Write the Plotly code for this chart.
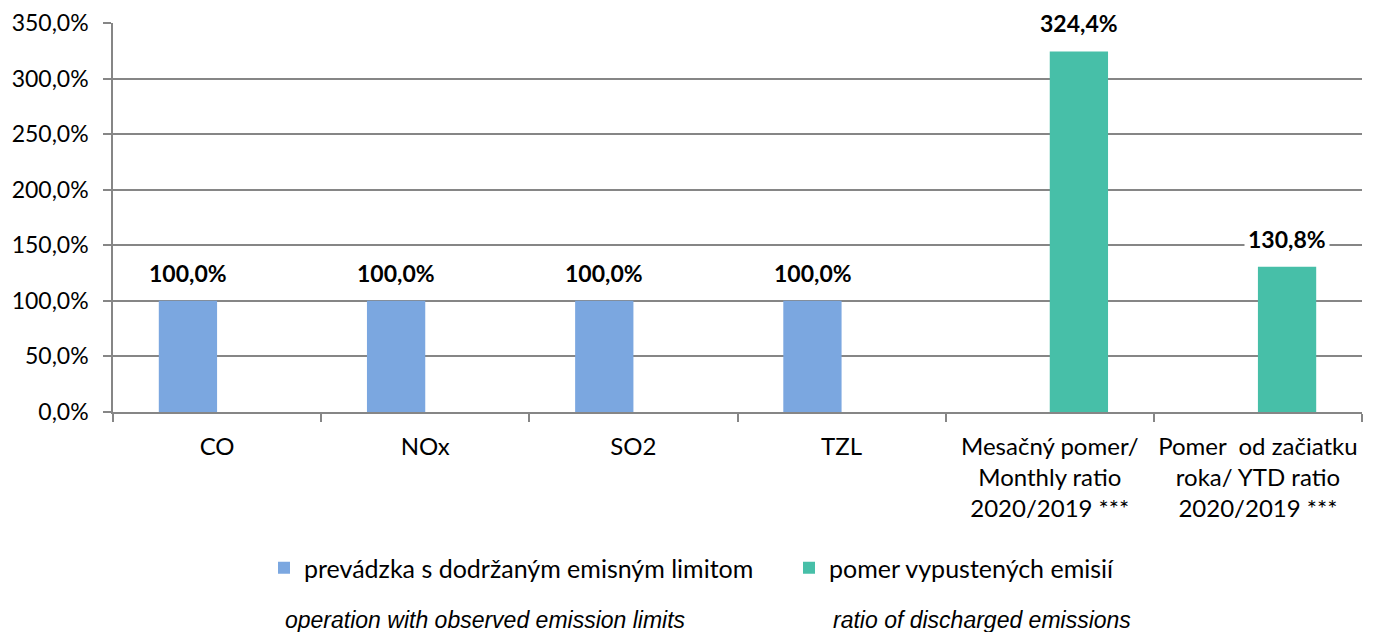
import plotly.graph_objects as go

categories = ["CO", "NOx", "SO2", "TZL",
              "Mesačný pomer/<br>Monthly ratio<br>2020/2019 ***",
              "Pomer\u00a0 od začiatku<br>roka/ YTD ratio<br>2020/2019 ***"]
limits_values = [100.0, 100.0, 100.0, 100.0, None, None]
ratio_values = [None, None, None, None, 324.4, 130.8]
series_names = ["prevádzka s dodržaným emisným limitom", "pomer vypustených emisií"]
english_notes = ["operation with observed emission limits", "ratio of discharged emissions"]
y_ticks = [0, 50, 100, 150, 200, 250, 300, 350]
y_tick_text = [f"{v:.1f}".replace(".", ",") + "%" for v in y_ticks]

BLUE = "#7BA7E0"
GREEN = "#47BFA8"
GRID = "#868686"
FONT = "Lato"

# page body has an 8px margin; target screenshot coords are shifted by it
OFF = 8
W, H = 1377, 632
ML = 113 - OFF
MT = 23 - OFF
MR = W - (1362 - OFF)
MB = H - (412 - OFF)
PW, PH = W - ML - MR, H - MT - MB


def px_x(px):
    return (px - OFF - ML) / PW


def px_y(py):
    return (H - MB - (py - OFF)) / PH


fig = go.Figure()
fig.add_trace(go.Bar(x=categories, y=limits_values, name=series_names[0],
                     marker=dict(color=BLUE, line=dict(width=0))))
fig.add_trace(go.Bar(x=categories, y=ratio_values, name=series_names[1],
                     marker=dict(color=GREEN, line=dict(width=0))))

annotations = []
for trace_idx, vals in enumerate([limits_values, ratio_values]):
    for i, v in enumerate(vals):
        if v is None:
            continue
        annotations.append(dict(
            x=categories[i], y=v, xref="x", yref="y",
            text="<b>" + f"{v:.1f}".replace(".", ",") + "%</b>",
            showarrow=False, yanchor="middle", yshift=28,
            xshift=-29 if trace_idx == 0 else 29,
            bgcolor="white", borderpad=3,
            font=dict(family=FONT, size=23, color="black")))

for note, xpos in zip(english_notes, [485, 982]):
    annotations.append(dict(
        x=px_x(xpos), y=px_y(620), xref="paper", yref="paper",
        text="<i>" + note + "</i>", showarrow=False,
        xanchor="center", yanchor="middle",
        font=dict(family="Liberation Sans", size=23, color="black")))

fig.update_layout(
    width=W, height=H,
    margin=dict(l=ML, r=MR, t=MT, b=MB, autoexpand=False),
    paper_bgcolor="white", plot_bgcolor="white",
    barmode="group", bargap=0.44, bargroupgap=0,
    font=dict(family=FONT, size=23, color="black"),
    showlegend=True,
    legend=dict(orientation="h", x=(278 - 22) / W, y=1 - (568 - OFF) / H,
                xref="container", yref="container",
                xanchor="left", yanchor="middle",
                entrywidth=480,
                font=dict(family=FONT, size=25, color="black")),
    annotations=annotations,
    xaxis=dict(showline=True, linecolor=GRID, linewidth=1.5,
               ticks="outside", tickson="boundaries", ticklen=8,
               tickcolor=GRID, tickwidth=1.5, showgrid=False,
               ticklabelstandoff=12, tickangle=0,
               tickfont=dict(family=FONT, size=24, color="black")),
    yaxis=dict(range=[0, 350], tickvals=y_ticks, ticktext=y_tick_text,
               showline=True, linecolor=GRID, linewidth=1.5,
               ticks="outside", ticklen=8, tickcolor=GRID, tickwidth=1.5,
               showgrid=True, gridcolor=GRID, gridwidth=1.5,
               zeroline=False, ticklabelstandoff=10,
               tickfont=dict(family=FONT, size=23, color="black")),
)

fig.write_html("out.html")
